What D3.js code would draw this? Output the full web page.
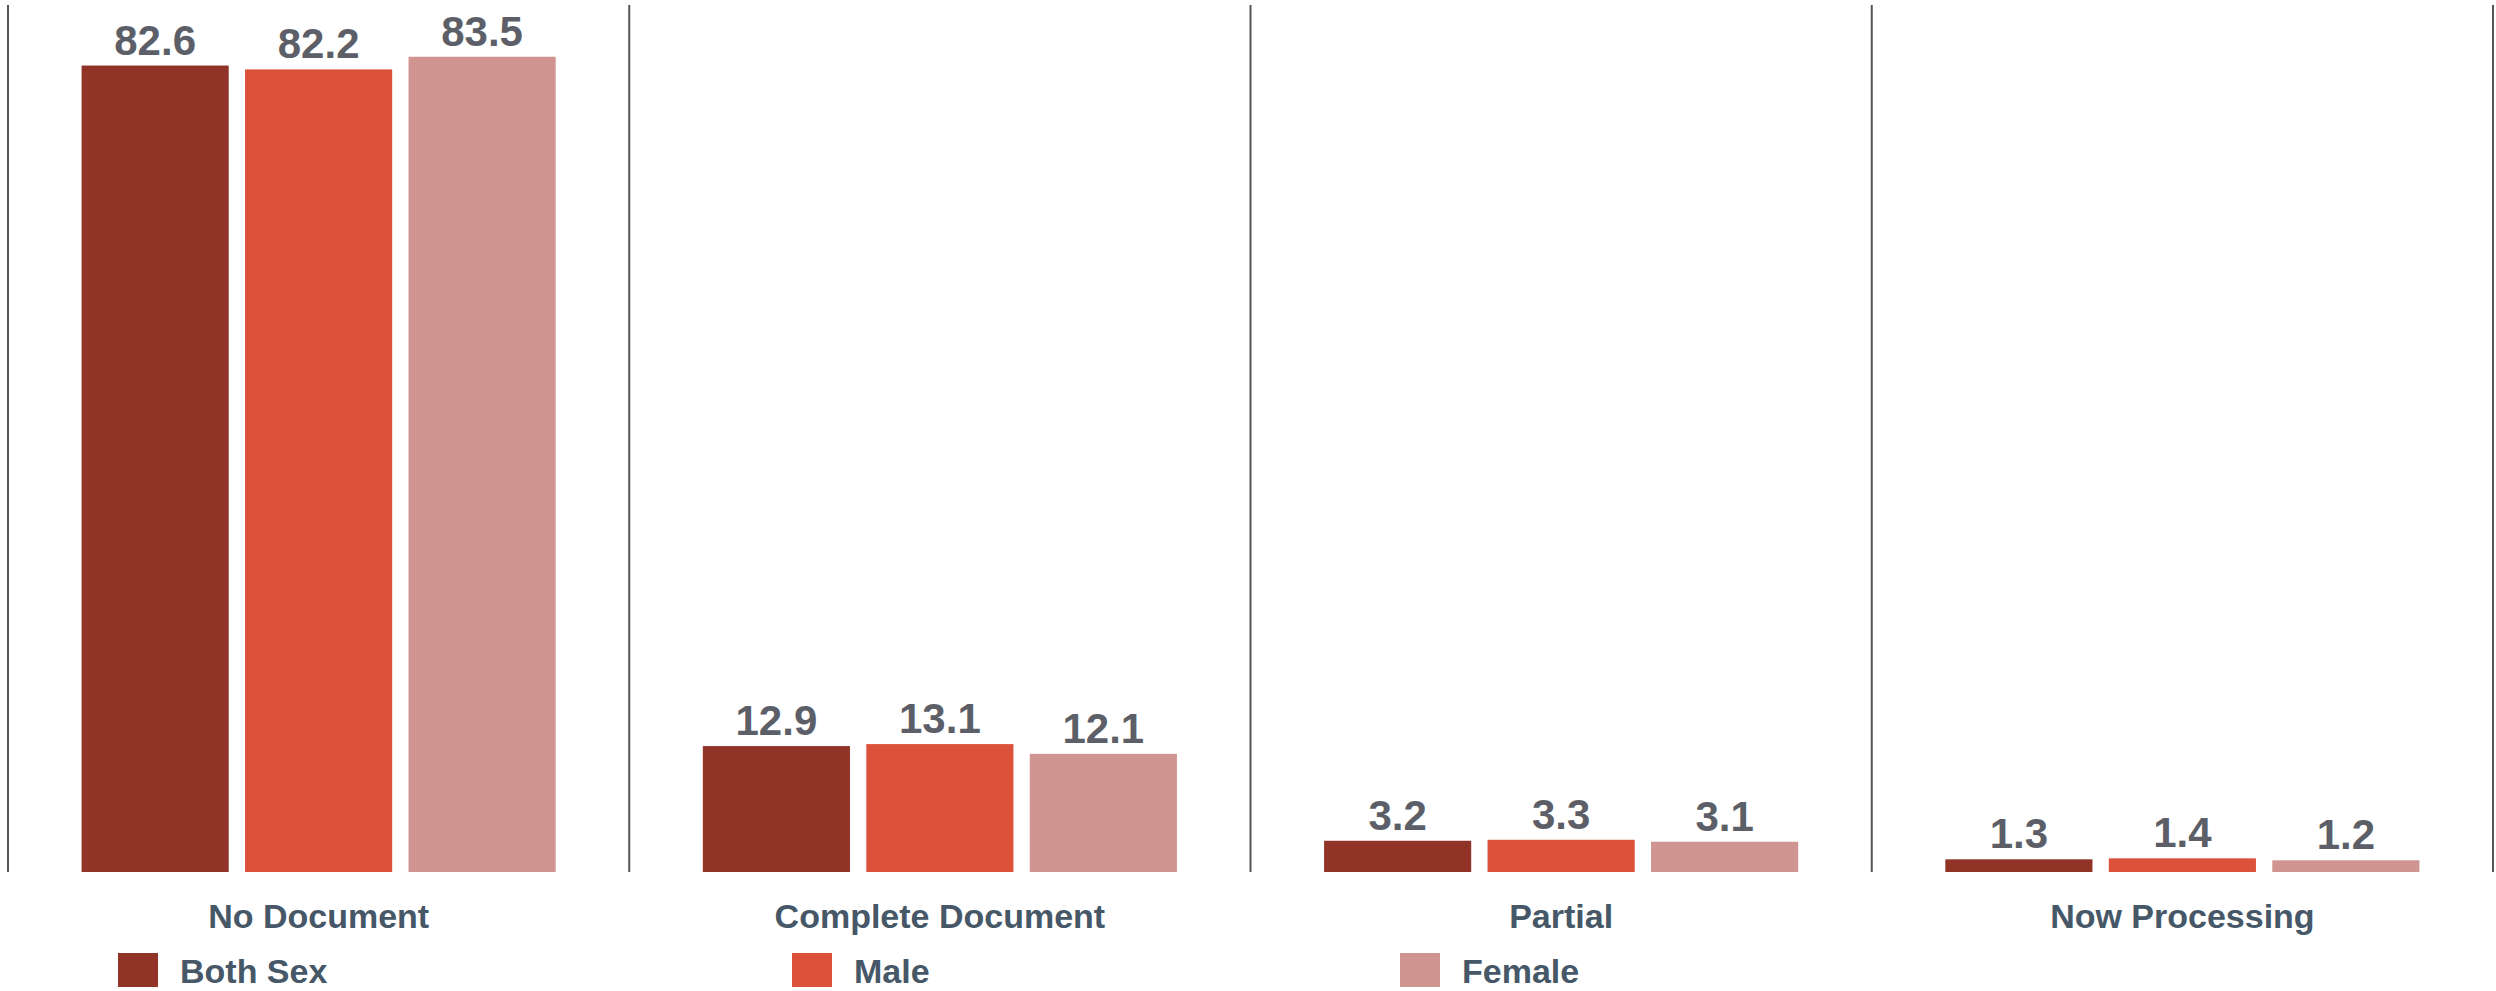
<!DOCTYPE html>
<html>
<head>
<meta charset="utf-8">
<script src="https://cdn.jsdelivr.net/npm/d3@7"></script>
<style>
  html, body { margin: 0; padding: 0; background: #ffffff; }
  svg { display: block; }
</style>
</head>
<body>
<svg id="chart" width="2496" height="991"></svg>
<script>
// ---- data ----
const categories = ["No Document", "Complete Document", "Partial", "Now Processing"];
const seriesNames = ["Both Sex", "Male", "Female"];
const bothSex = [82.6, 12.9, 3.2, 1.3];
const male    = [82.2, 13.1, 3.3, 1.4];
const female  = [83.5, 12.1, 3.1, 1.2];
const seriesValues = [bothSex, male, female];

// ---- style / layout ----
const colors = ["#913327", "#dc513a", "#d09591"];
const baseY = 872, topY = 5;
const legendX = [118, 792, 1400];

const svg = d3.select("#chart");

const x0 = d3.scaleBand().domain(categories).range([8, 2493]).paddingInner(0).paddingOuter(0);
const x1 = d3.scaleBand().domain(seriesNames).range([0, x0.bandwidth()])
  .paddingInner(0.1).paddingOuter(0.45);
const y = d3.scaleLinear().domain([0, 88.8]).range([baseY, topY]);
const color = d3.scaleOrdinal().domain(seriesNames).range(colors);

// separators
const seps = categories.map(c => x0(c)).concat([x0.range()[1]]);
svg.append("g").selectAll("line").data(seps).join("line")
  .attr("x1", d => d).attr("x2", d => d)
  .attr("y1", topY).attr("y2", baseY)
  .attr("stroke", "#555555").attr("stroke-width", 2);

// bars
const rows = [];
categories.forEach((c, i) => {
  seriesNames.forEach((s, j) => rows.push({ cat: c, series: s, value: seriesValues[j][i] }));
});

const g = svg.append("g");
g.selectAll("rect").data(rows).join("rect")
  .attr("x", d => x0(d.cat) + x1(d.series))
  .attr("y", d => y(d.value))
  .attr("width", x1.bandwidth())
  .attr("height", d => baseY - y(d.value))
  .attr("fill", d => color(d.series));

g.selectAll("text.val").data(rows).join("text")
  .attr("class", "val")
  .attr("x", d => x0(d.cat) + x1(d.series) + x1.bandwidth() / 2)
  .attr("y", d => y(d.value) - 11)
  .attr("text-anchor", "middle")
  .attr("font-family", "'Liberation Sans', Arial, sans-serif")
  .attr("font-weight", "bold")
  .attr("font-size", 42)
  .attr("fill", "#5d5f68")
  .text(d => d.value.toFixed(1));

// category axis labels
const xAxis = d3.axisBottom(x0).tickSize(0).tickPadding(0);
const ax = svg.append("g").attr("transform", `translate(0,${baseY})`).call(xAxis);
ax.select(".domain").remove();
ax.selectAll("text")
  .attr("dy", 0)
  .attr("y", 56)
  .attr("font-family", "'Liberation Sans', Arial, sans-serif")
  .attr("font-weight", "bold")
  .attr("font-size", 34)
  .attr("fill", "#465767");

// legend
const leg = svg.append("g").selectAll("g").data(seriesNames).join("g")
  .attr("transform", (d, i) => `translate(${legendX[i]},953)`);
leg.append("rect").attr("width", 40).attr("height", 34).attr("fill", d => color(d));
leg.append("text")
  .attr("x", 62).attr("y", 30)
  .attr("font-family", "'Liberation Sans', Arial, sans-serif")
  .attr("font-weight", "bold")
  .attr("font-size", 34)
  .attr("fill", "#465767")
  .text(d => d);
</script>
</body>
</html>
